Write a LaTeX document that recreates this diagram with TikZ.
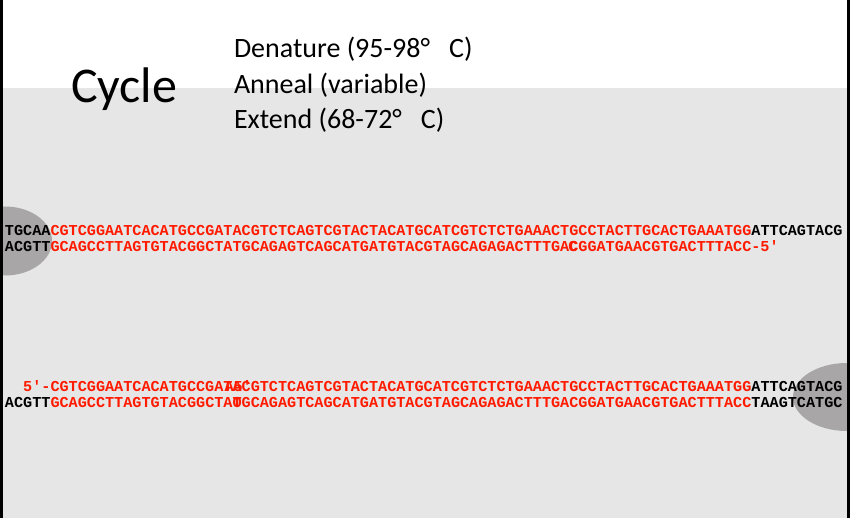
\documentclass[tikz,border=0pt]{standalone}
\usepackage{fontspec}
\newfontfamily\dnafont{Liberation Mono}
\newfontfamily\headfont{Carlito}
\definecolor{dnared}{RGB}{255,26,0}
\definecolor{bggray}{RGB}{230,230,230}
\definecolor{blob}{RGB}{168,166,166}
\tikzset{
  seq/.style={anchor=base west, inner sep=0pt, outer sep=0pt, text=black,
    font=\dnafont\bfseries\fontsize{15.17}{18}\selectfont},
  redseq/.style={seq, text=dnared},
  head/.style={anchor=base west, inner sep=0pt, outer sep=0pt, text=black,
    font=\headfont\fontsize{28}{34}\selectfont},
  big/.style={anchor=base west, inner sep=0pt, outer sep=0pt, text=black,
    font=\headfont\fontsize{50}{60}\selectfont},
}
\begin{document}
\begin{tikzpicture}[x=1pt,y=-1pt]
\useasboundingbox (0,0) rectangle (850,518);
\clip (0,0) rectangle (850,518);
% background
\fill[white] (0,0) rectangle (850,518);
\fill[bggray] (0,88) rectangle (850,518);
% grey blobs
\fill[blob] (5,241) ellipse [x radius=47pt, y radius=34.5pt];
\fill[blob] (847,397) ellipse [x radius=54pt, y radius=34pt];
% header
\node[big] (cyc) at (71,103) {Cycle};
\node[head] (t1) at (234,58) {Denature (95-98°\hspace{19pt}C)};
\node[head] (t2) at (234,94) {Anneal (variable)};
\node[head] (t3) at (234,129) {Extend (68-72°\hspace{19pt}C)};
% sequences
\node[seq] (r1) at (5,236) {TGCAA\textcolor{dnared}{CGTCGGAATCACATGCCGATACGTCTCAGTCGTACTACATGCATCGTCTCTGAAACTGCCTACTTGCACTGAAATGG}ATTCAGTACG};
\node[seq] (r2) at (5,252) {ACGTT\textcolor{dnared}{GCAGCCTTAGTGTACGGCTATGCAGAGTCAGCATGATGTACGTAGCAGAGACTTTGACGGATGAACGTGACTTTACC-5′}};
\node[seq] (r3) at (23.2,391) {\textcolor{dnared}{5′-CGTCGGAATCACATGCCGATACGTCTCAGTCGTACTACATGCATCGTCTCTGAAACTGCCTACTTGCACTGAAATGG}ATTCAGTACG};
\node[seq] (r4) at (5,407) {ACGTT\textcolor{dnared}{GCAGCCTTAGTGTACGGCTATGCAGAGTCAGCATGATGTACGTAGCAGAGACTTTGACGGATGAACGTGACTTTACC}TAAGTCATGC};
% overlapping fragments, as in the reference
\node[redseq] (o1) at (568.3,252) {C};
\node[redseq] (o2) at (224.5,391) {A5′};
\node[redseq] (o3) at (232.5,407) {O};
% side bars
\fill[black] (0,0) rectangle (3,518);
\fill[black] (847,0) rectangle (850,518);
\end{tikzpicture}
\end{document}
